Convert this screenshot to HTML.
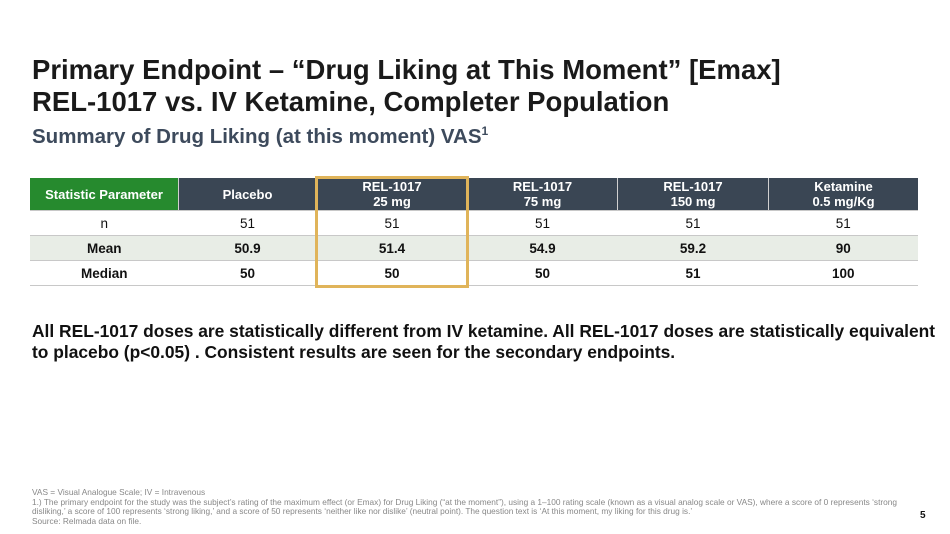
<!DOCTYPE html>
<html><head><meta charset="utf-8"><style>
body{margin:0;width:950px;height:534px;background:#fff;font-family:"Liberation Sans",Arial,sans-serif;position:relative;overflow:hidden}
.t{position:absolute;left:32px;top:54px;font-size:27.5px;font-weight:bold;color:#1a1a1a;line-height:32px}
.s{position:absolute;left:32px;top:124px;font-size:20.5px;font-weight:bold;color:#3d4a5c}
.s sup{font-size:12px}
table{position:absolute;left:30px;top:178px;border-collapse:collapse;width:888px;font-size:13.5px}
td,th{text-align:center;border-bottom:1px solid #c8c8c8;padding:0}
th{background:#3a4654;color:#fff;height:32px;font-size:13px;line-height:15px;border-left:1px solid #d0d0d0}
th.g{background:#268a2e;border-left:none}
td{height:24px;color:#111}
tr.m td{background:#e8ede6;font-weight:bold}
tr.b td{font-weight:bold}
.box{position:absolute;left:315px;top:176px;width:148px;height:106px;border:3px solid #e0b45a}
.p{position:absolute;left:32px;top:321px;font-size:17.4px;font-weight:bold;color:#111;line-height:21px;white-space:nowrap}
.f{position:absolute;left:32px;top:488px;font-size:8.3px;color:#888;line-height:9.6px;white-space:nowrap}
.n{position:absolute;left:920px;top:510px;font-size:10px;font-weight:bold;color:#111}
</style></head><body>
<div class="t">Primary Endpoint – “Drug Liking at This Moment” [Emax]<br>REL-1017 vs. IV Ketamine, Completer Population</div>
<div class="s">Summary of Drug Liking (at this moment) VAS<sup>1</sup></div>
<table>
<tr><th class="g" style="width:148px">Statistic Parameter</th><th style="width:137px">Placebo</th><th style="width:150px">REL-1017<br>25 mg</th><th style="width:149px">REL-1017<br>75 mg</th><th style="width:150px">REL-1017<br>150 mg</th><th>Ketamine<br>0.5 mg/Kg</th></tr>
<tr><td>n</td><td>51</td><td>51</td><td>51</td><td>51</td><td>51</td></tr>
<tr class="m"><td>Mean</td><td>50.9</td><td>51.4</td><td>54.9</td><td>59.2</td><td>90</td></tr>
<tr class="b"><td>Median</td><td>50</td><td>50</td><td>50</td><td>51</td><td>100</td></tr>
</table>
<div class="box"></div>
<div class="p">All REL-1017 doses are statistically different from IV ketamine. All REL-1017 doses are statistically equivalent<br>to placebo (p&lt;0.05) . Consistent results are seen for the secondary endpoints.</div>
<div class="f">VAS = Visual Analogue Scale; IV = Intravenous<br>1.) The primary endpoint for the study was the subject’s rating of the maximum effect (or Emax) for Drug Liking (“at the moment”), using a 1–100 rating scale (known as a visual analog scale or VAS), where a score of 0 represents ‘strong<br>disliking,’ a score of 100 represents ‘strong liking,’ and a score of 50 represents ‘neither like nor dislike’ (neutral point). The question text is ‘At this moment, my liking for this drug is.’<br>Source: Relmada data on file.</div>
<div class="n">5</div>
</body></html>
